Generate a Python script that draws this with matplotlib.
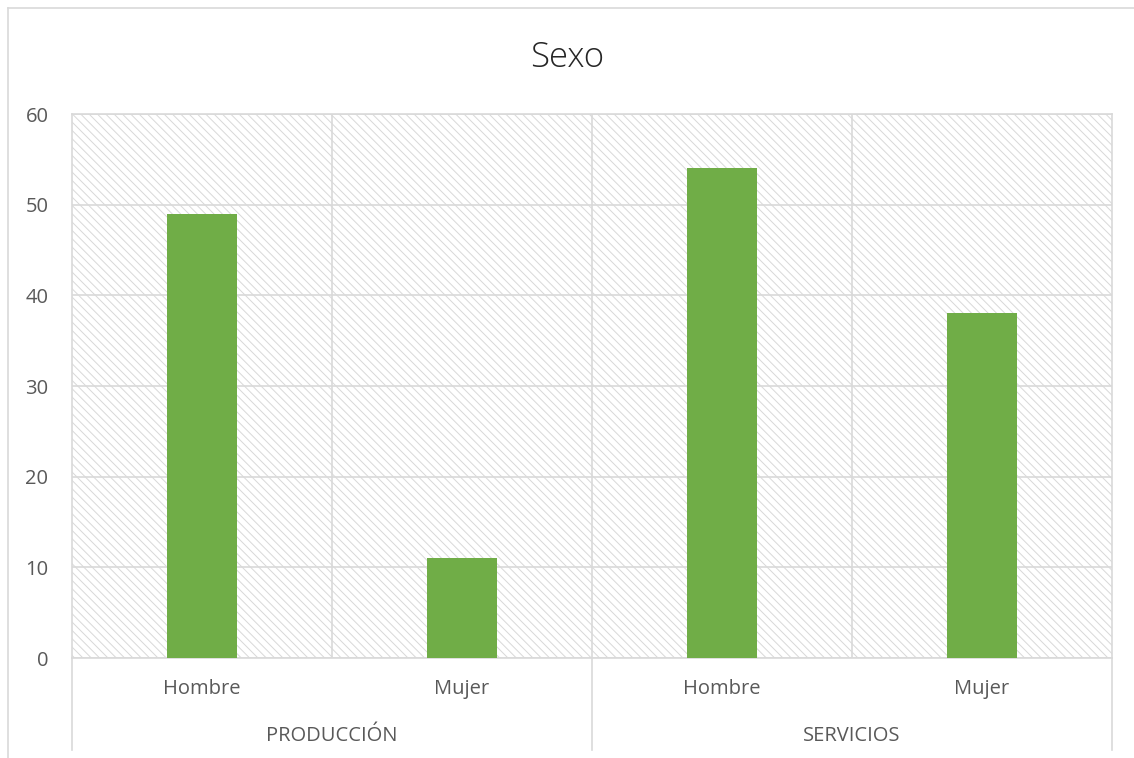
import matplotlib.pyplot as plt
from matplotlib.patches import Rectangle
from matplotlib.lines import Line2D

plt.rcParams['font.family'] = ['Open Sans', 'DejaVu Sans']
plt.rcParams['hatch.linewidth'] = 0.7

# datos
grupos = ['PRODUCCIÓN', 'SERVICIOS']
categorias = ['Hombre', 'Mujer', 'Hombre', 'Mujer']
valores = [49, 11, 54, 38]

gris = '#d9d9d9'
texto = '#595959'
verde = '#70ad47'

fig = plt.figure(figsize=(11.34, 7.58), dpi=100)
ax = fig.add_axes([72/1134, 100/758, 1040/1134, 544/758])

# fondo rayado del area de trazado
ax.add_patch(Rectangle((0, 0), 1, 1, transform=ax.transAxes, facecolor='none',
                       edgecolor='#d8d8d8', hatch='\\\\\\\\', linewidth=0, zorder=0))

x = list(range(len(valores)))
ax.bar(x, valores, width=0.27, color=verde, zorder=3)

ax.set_xlim(-0.5, len(valores) - 0.5)
ax.set_ylim(0, 60)
ax.set_yticks(range(0, 61, 10))
ax.set_xticks(x)
ax.set_xticklabels(categorias)
ax.tick_params(axis='both', length=0, labelsize=14.5, colors=texto)
ax.tick_params(axis='y', pad=17)
ax.tick_params(axis='x', pad=15)

ax.grid(axis='y', color=gris, linewidth=1.2, zorder=1)
for xv in [0.5, 1.5, 2.5]:
    ax.axvline(xv, color=gris, linewidth=1.2, zorder=1)
for s in ax.spines.values():
    s.set_color(gris)
    s.set_linewidth(1.2)

# separadores y etiquetas de grupo debajo del eje
tr = ax.get_xaxis_transform()
for xv in [-0.5, 1.5, 3.5]:
    ax.add_line(Line2D([xv, xv], [0, -0.169], transform=tr, color=gris,
                       linewidth=1.2, clip_on=False))
for i, g in enumerate(grupos):
    ax.text(2 * i + 0.5, -0.143, g, transform=tr, ha='center', va='center',
            fontsize=14.5, color=texto)

fig.text(0.5, 1 - 58/758, 'Sexo', ha='center', va='center', fontsize=25,
         color='#262626', fontweight='light')

# borde exterior del grafico
fig.add_artist(Line2D([8/1134, 8/1134], [0, 1 - 8/758], transform=fig.transFigure,
                      color=gris, linewidth=1.2))
fig.add_artist(Line2D([8/1134, 1], [1 - 8/758, 1 - 8/758], transform=fig.transFigure,
                      color=gris, linewidth=1.2))

fig.savefig('out.png', dpi=100)
